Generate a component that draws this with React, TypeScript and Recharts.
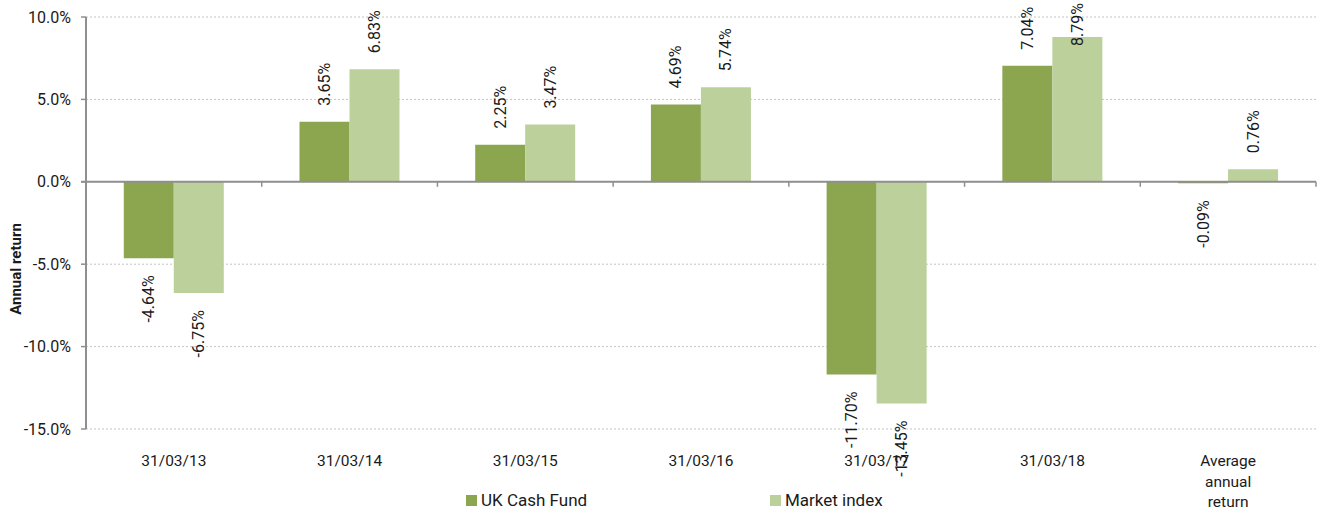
import React from 'react';
import {
  BarChart, Bar, XAxis, YAxis, CartesianGrid, ReferenceLine, Legend, LabelList,
} from 'recharts';

// periods ending 31 March, plus the average
const categories = ['31/03/13', '31/03/14', '31/03/15', '31/03/16', '31/03/17', '31/03/18', 'Average annual return'];
const ukCashFund = [-4.64, 3.65, 2.25, 4.69, -11.7, 7.04, -0.09];
const marketIndex = [-6.75, 6.83, 3.47, 5.74, -13.45, 8.79, 0.76];
const yTicks = [-15, -10, -5, 0, 5, 10];

const DARK = '#8ba64e';
const LIGHT = '#bbd09a';
const AXIS = '#8f8f8f';
const TEXT = '#1a1a1a';
const FONT = 'Roboto, "Noto Sans", sans-serif';

const data = categories.map((c, i) => ({
  name: c,
  fund: ukCashFund[i],
  index: marketIndex[i],
}));

const fmtPct = (v: number) => `${v.toFixed(2)}%`;

// rotated value label: above the bar for gains, below it for losses
const ValueLabel = (props: any) => {
  const { x, y, width, height, value } = props;
  const cx = x + width / 2;
  const top = Math.min(y, y + height);
  const bottom = Math.max(y, y + height);
  const pos = value >= 0;
  const txt = fmtPct(value);
  const approxLen = txt.length * 8.6;
  // keep gains labels inside the top edge
  const ly = pos ? Math.max(top - 16, 3 + approxLen) : bottom + 17;
  return (
    <text
      x={cx}
      y={ly}
      transform={`rotate(-90, ${cx}, ${ly})`}
      textAnchor={pos ? 'start' : 'end'}
      dominantBaseline="central"
      fontSize={16}
      fontFamily={FONT}
      fill={TEXT}
    >
      {txt}
    </text>
  );
};

const CategoryTick = (props: any) => {
  const { x, y, payload } = props;
  const words: string[] = payload.value === 'Average annual return'
    ? ['Average', 'annual', 'return']
    : [payload.value];
  return (
    <text x={x} y={y} textAnchor="middle" fontSize={15.5} fontFamily={FONT} fill={TEXT}>
      {words.map((w, i) => (
        <tspan key={w} x={x} dy={i === 0 ? 0 : 20.5}>{w}</tspan>
      ))}
    </text>
  );
};

// zero line carries the category tick marks
const ZeroLine = (props: any) => {
  const { x1, y1, x2 } = props;
  const n = categories.length;
  const step = (x2 - x1) / n;
  const marks = [];
  for (let k = 1; k <= n; k++) {
    const tx = x1 + step * k;
    marks.push(<line key={k} x1={tx} x2={tx} y1={y1} y2={y1 + 5} stroke={AXIS} strokeWidth={1.5} />);
  }
  return (
    <g>
      <line x1={x1 - 5} x2={x2} y1={y1} y2={y1} stroke={AXIS} strokeWidth={2} />
      {marks}
    </g>
  );
};

const LegendContent = () => (
  <div style={{ position: 'relative', height: 24, fontFamily: FONT, fontSize: 17, color: TEXT }}>
    <div style={{ position: 'absolute', left: 430, top: 1, display: 'flex', alignItems: 'center' }}>
      <span style={{ width: 11, height: 11, background: DARK, marginRight: 4, display: 'inline-block' }} />
      UK Cash Fund
    </div>
    <div style={{ position: 'absolute', left: 734, top: 1, display: 'flex', alignItems: 'center' }}>
      <span style={{ width: 11, height: 11, background: LIGHT, marginRight: 4, display: 'inline-block' }} />
      Market index
    </div>
  </div>
);

export default function App() {
  return (
    <div style={{ position: 'absolute', left: 0, top: 0, width: 1319, height: 514, background: '#fff' }}>
      <BarChart
        width={1319}
        height={514}
        data={data}
        margin={{ top: 17, right: 3, left: 36, bottom: 0 }}
        barCategoryGap="21.5%"
        barGap={0}
      >
        <CartesianGrid vertical={false} stroke="#c4c4c4" strokeDasharray="2 2" />
        <XAxis
          dataKey="name"
          axisLine={false}
          tickLine={false}
          tick={<CategoryTick />}
          interval={0}
          height={60}
          tickMargin={31}
        />
        <YAxis
          domain={[-15, 10]}
          ticks={yTicks}
          tickFormatter={(v: number) => `${v.toFixed(1)}%`}
          axisLine={{ stroke: AXIS, strokeWidth: 2 }}
          tickLine={{ stroke: AXIS, strokeWidth: 1.5 }}
          tickSize={5}
          tickMargin={10}
          width={50}
          tick={{ fontSize: 16, fontFamily: FONT, fill: TEXT }}
        />
        <ReferenceLine y={0} shape={<ZeroLine />} />
        <Bar dataKey="fund" name="UK Cash Fund" fill={DARK} isAnimationActive={false}>
          <LabelList dataKey="fund" content={<ValueLabel />} />
        </Bar>
        <Bar dataKey="index" name="Market index" fill={LIGHT} isAnimationActive={false}>
          <LabelList dataKey="index" content={<ValueLabel />} />
        </Bar>
        <Legend verticalAlign="bottom" height={25} content={<LegendContent />} />
      </BarChart>
      <svg width={40} height={514} style={{ position: 'absolute', left: 0, top: 0, pointerEvents: 'none' }}>
        <text
          x={16}
          y={269}
          transform="rotate(-90, 16, 269)"
          textAnchor="middle"
          dominantBaseline="central"
          fontSize={15}
          fontWeight="bold"
          fontFamily={FONT}
          fill={TEXT}
        >
          Annual return
        </text>
      </svg>
    </div>
  );
}
